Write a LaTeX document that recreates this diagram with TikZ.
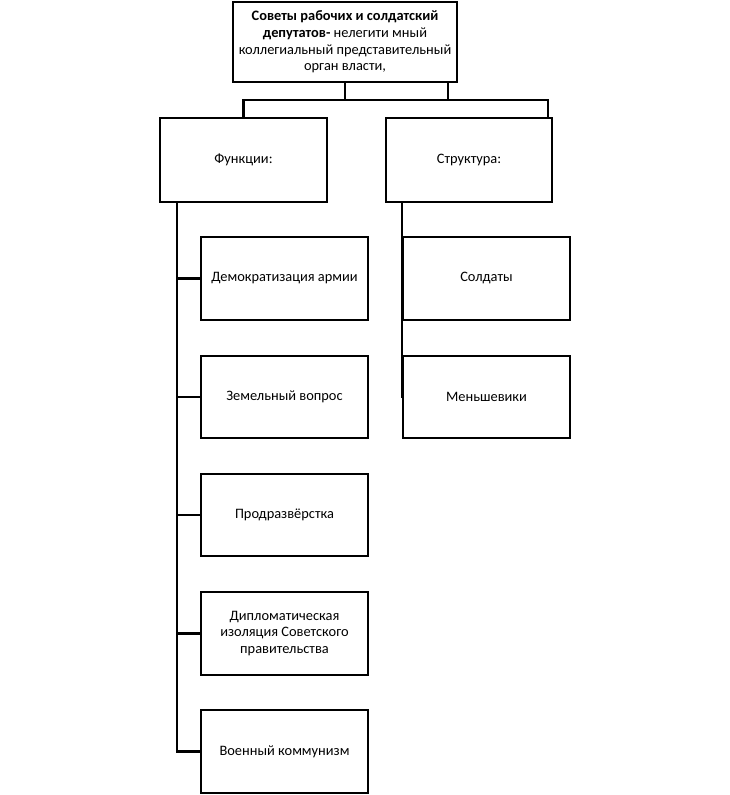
\documentclass[tikz,border=0pt]{standalone}
\usepackage{fontspec}
\setmainfont{Carlito}
\usepackage{tikz}
\usetikzlibrary{positioning,calc}

\begin{document}
\begin{tikzpicture}[
  x=0.75pt,y=-0.75pt,
  font=\fontsize{10.8pt}{12.4pt}\selectfont,
  box/.style={draw,line width=1.7pt,minimum width=125pt,minimum height=62pt,align=center,inner sep=2pt},
  link/.style={line width=1.7pt},
]
\useasboundingbox (0,0) rectangle (730,795);

% Верхний блок
\node[box,minimum width=168pt,minimum height=60pt] (sov) at (345,42) {\textbf{Советы рабочих и солдатский}\\\textbf{депутатов-} нелегити мный\\коллегиальный представительный\\орган власти,};

% Функции и структура
\node[box,minimum height=63pt] (func) at (243.5,160) {Функции:};
\node[box,minimum height=63pt] (struct) at (469,160) {Структура:};

% Функции
\node[box] (arm) at (284.5,278.5) {Демократизация армии};
\node[box] (land) at (284.5,397) {Земельный вопрос};
\node[box] (prod) at (284.5,515) {Продразвёрстка};
\node[box] (dipl) at (284.5,633.5) {Дипломатическая\\изоляция Советского\\правительства};
\node[box] (war) at (284.5,751.5) {Военный коммунизм};

% Структура
\node[box] (sold) at (486.5,278.5) {Солдаты};
\node[box] (mensh) at (486.5,397) {Меньшевики};

% Шина
\coordinate (busR) at (548,100);
\coordinate (drop) at (448,82);
\coordinate (spL) at (177,202);
\coordinate (spR) at (402,202);

% Связи
\draw[link] (sov.south) -- (sov.south |- busR);
\draw[link] (drop) -- (drop |- busR);
\draw[link] (func.north) |- (busR) -- (busR |- struct.north);

\draw[link] (spL) |- (arm.west);
\draw[link] (spL) |- (land.west);
\draw[link] (spL) |- (prod.west);
\draw[link] (spL) |- (dipl.west);
\draw[link] (spL) |- (war.west);

\draw[link] (spR) |- (sold.west);
\draw[link] (spR) |- (mensh.west);

\end{tikzpicture}
\end{document}
